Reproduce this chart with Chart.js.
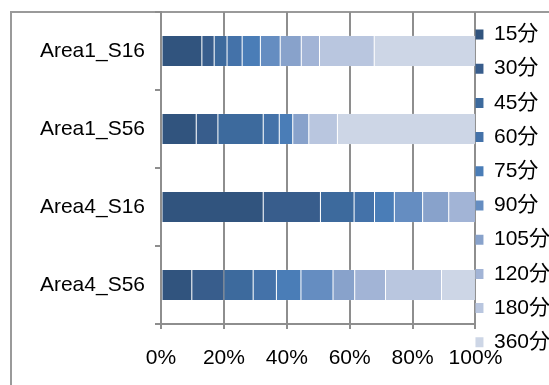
<!DOCTYPE html>
<html>
<head>
<meta charset="utf-8">
<script src="https://cdn.jsdelivr.net/npm/chart.js@4/dist/chart.umd.min.js"></script>
<style>
  html, body { margin: 0; padding: 0; background: #fff; overflow: hidden; }
  #wrap { position: relative; width: 549px; height: 385px; overflow: hidden; }
  #frame { position: absolute; left: 10px; top: 11px; right: -10px; bottom: -10px;
           border-left: 2px solid #9a9a9a; border-top: 2px solid #9a9a9a; }
  canvas { position: absolute; left: 0; top: 0; }
</style>
</head>
<body>
<div id="wrap">
  <div id="frame"></div>
  <canvas id="chart" width="560" height="385"></canvas>
</div>
<script>
// カテゴリ
const categories = ['Area1_S16', 'Area1_S56', 'Area4_S16', 'Area4_S56'];
// 系列名
const seriesNames = ['15分', '30分', '45分', '60分', '75分', '90分', '105分', '120分', '180分', '360分'];
// 系列の色
const seriesColors = ['#31547e', '#385d8c', '#3d6a9d', '#4472a9', '#4a7db7',
                      '#658dc1', '#88a2cb', '#a2b4d6', '#b9c6df', '#cdd6e6'];
// 各系列の値 (%)
const v15  = [13.0, 11.2, 32.5,  9.8];
const v30  = [ 3.9,  6.9, 18.2, 10.2];
const v45  = [ 4.1, 14.4, 10.7,  9.3];
const v60  = [ 4.8,  5.1,  6.5,  7.4];
const v75  = [ 5.8,  4.3,  6.3,  7.8];
const v90  = [ 6.3,  0.0,  9.0, 10.2];
const v105 = [ 6.7,  5.1,  8.3,  6.9];
const v120 = [ 5.8,  0.0,  8.5,  9.8];
const v180 = [17.4,  9.1,  0.0, 17.8];
const v360 = [32.2, 43.9,  0.0, 10.8];
const seriesValues = [v15, v30, v45, v60, v75, v90, v105, v120, v180, v360];
// 目盛り
const xTicks = [0, 20, 40, 60, 80, 100];

const FONT = "'Liberation Sans', Arial, 'Noto Sans CJK JP', sans-serif";

document.addEventListener('DOMContentLoaded', () => {
    const ctx = document.getElementById('chart').getContext('2d');

    const datasets = seriesNames.map((name, i) => ({
        label: name,
        data: seriesValues[i],
        backgroundColor: seriesColors[i],
        borderColor: 'rgba(255,255,255,0.3)',
        borderWidth: 0.5,
        borderSkipped: false,
        categoryPercentage: 0.4,
        barPercentage: 1.0
    }));

    new Chart(ctx, {
        type: 'bar',
        data: { labels: categories, datasets: datasets },
        options: {
            indexAxis: 'y',
            responsive: false,
            animation: false,
            layout: { padding: { left: 40, top: 12, right: 0, bottom: 14 } },
            plugins: {
                tooltip: { enabled: false },
                legend: {
                    position: 'right',
                    align: 'center',
                    title: { display: true, text: '', font: { size: 1, lineHeight: 1 }, padding: { top: 8, bottom: 0 } },
                    labels: {
                        boxWidth: 10,
                        boxHeight: 10,
                        padding: -2,
                        color: '#000',
                        font: { family: FONT, size: 21, lineHeight: '36.2px' },
                        generateLabels: (chart) => {
                            const items = Chart.defaults.plugins.legend.labels.generateLabels(chart);
                            items.forEach(item => {
                                item.text = [item.text];
                                item.lineWidth = 0;
                                item.strokeStyle = item.fillStyle;
                            });
                            return items;
                        }
                    }
                }
            },
            scales: {
                x: {
                    stacked: true,
                    min: 0,
                    max: 100,
                    afterBuildTicks: (axis) => {
                        axis.ticks = xTicks.map(v => ({ value: v }));
                    },
                    afterFit: (scale) => {
                        scale.height = 47;
                        scale.paddingLeft = 0;
                        scale.paddingRight = 0;
                    },
                    ticks: {
                        color: '#000',
                        padding: 17,
                        maxRotation: 0,
                        font: { family: FONT, size: 21 },
                        callback: (v) => v + '%'
                    },
                    grid: { color: '#8e8e8e', lineWidth: 2, tickLength: 5 },
                    border: { color: '#8e8e8e', width: 2 }
                },
                y: {
                    stacked: true,
                    afterFit: (scale) => {
                        scale.width = 121;
                        scale.paddingTop = 0;
                        scale.paddingBottom = 0;
                    },
                    ticks: {
                        color: '#000',
                        padding: 10,
                        font: { family: FONT, size: 21 }
                    },
                    grid: { offset: true, drawOnChartArea: false, color: '#8e8e8e', lineWidth: 2, tickLength: 6 },
                    border: { color: '#8e8e8e', width: 2 }
                }
            }
        }
    });
});
</script>
</body>
</html>
